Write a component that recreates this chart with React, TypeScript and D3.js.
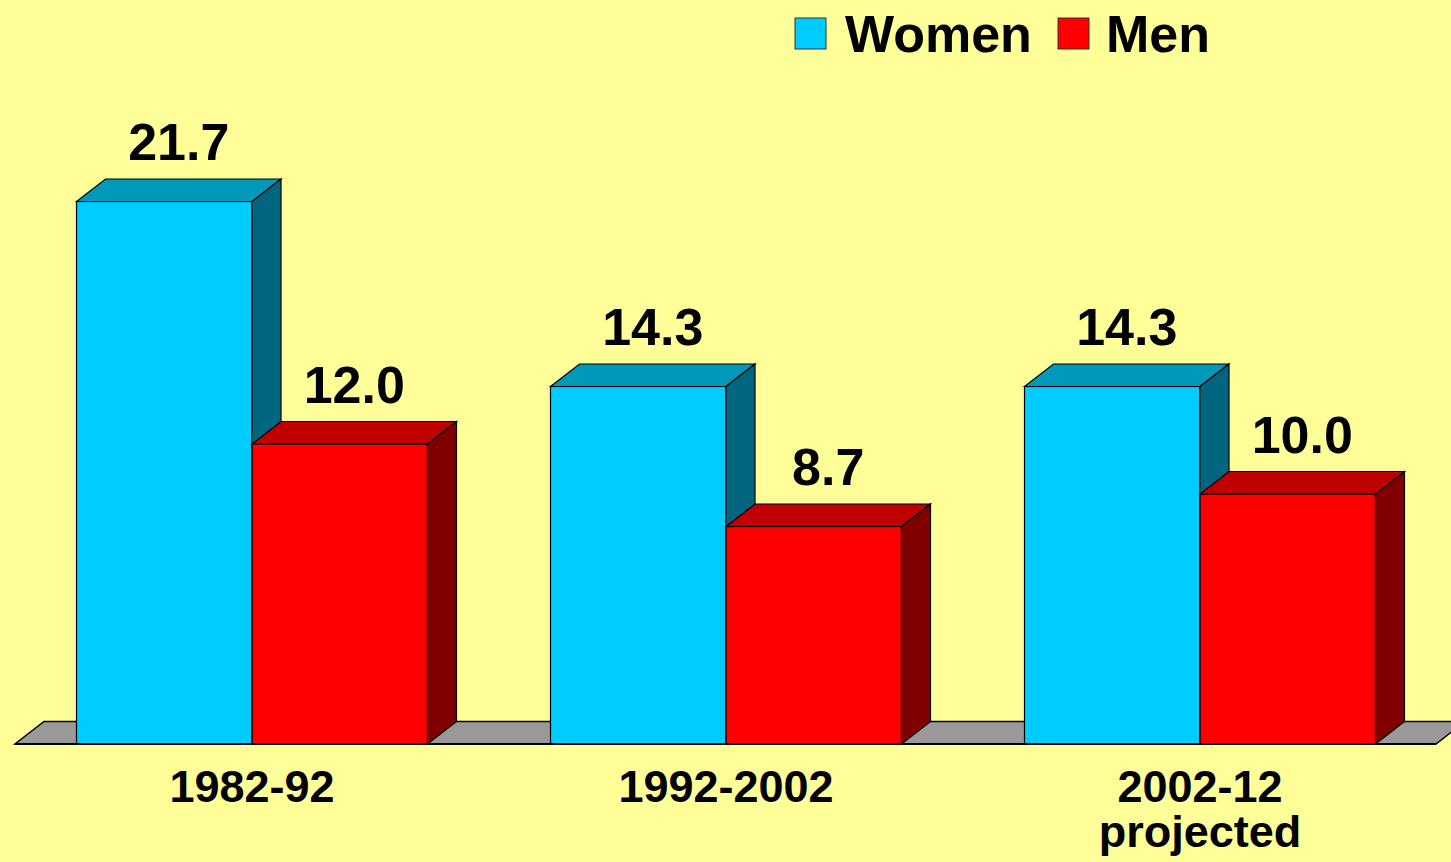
import React from "react";
import * as d3 from "d3";

const categories = ["1982-92", "1992-2002", "2002-12\nprojected"];
const series = ["Women", "Men"];
const women = [21.7, 14.3, 14.3];
const men = [12.0, 8.7, 10.0];

const W = 1451;
const H = 862;
const DX = 29;
const DY = 22.5;
const FONT = "'Liberation Sans', Arial, Helvetica, sans-serif";

const colors: Record<string, { front: string; top: string; side: string }> = {
  Women: { front: "#00CCFF", top: "#0099BB", side: "#006680" },
  Men: { front: "#FF0000", top: "#C00000", side: "#800000" },
};

export default function App() {
  const x = d3.scalePoint<string>().domain(categories).range([252, 1200]);
  const inner = d3.scaleBand<string>().domain(series).range([-175.5, 175.5]).padding(0);
  const y = d3.scaleLinear().domain([0, 22]).range([744, 194]);
  const y0 = y(0);
  const values: Record<string, number[]> = { Women: women, Men: men };

  const floorL = 15;
  const floorR = 1436;

  return (
    <svg width={W} height={H} style={{ display: "block", position: "absolute", left: 0, top: 0 }}>
      <rect x={0} y={0} width={W} height={H} fill="#FFFF99" />
      {/* floor */}
      <polygon
        points={`${floorL},${y0} ${floorR},${y0} ${floorR + DX},${y0 - DY} ${floorL + DX},${y0 - DY}`}
        fill="#999999"
        stroke="#000"
        strokeWidth={1.5}
      />
      {categories.map((c, i) => (
        <g key={c}>
          {series.map((s) => {
            const v = values[s][i];
            const x0 = (x(c) as number) + (inner(s) as number);
            const x1 = x0 + inner.bandwidth();
            const yt = y(v);
            const col = colors[s];
            return (
              <g key={s}>
                <rect x={x0} y={yt} width={x1 - x0} height={y0 - yt} fill={col.front} stroke="#000" strokeWidth={1.2} />
                <polygon
                  points={`${x0},${yt} ${x0 + DX},${yt - DY} ${x1 + DX},${yt - DY} ${x1},${yt}`}
                  fill={col.top}
                  stroke="#000"
                  strokeWidth={1.2}
                />
                <polygon
                  points={`${x1},${yt} ${x1 + DX},${yt - DY} ${x1 + DX},${y0 - DY} ${x1},${y0}`}
                  fill={col.side}
                  stroke="#000"
                  strokeWidth={1.2}
                />
                <text
                  x={(x0 + x1) / 2 + DX / 2}
                  y={yt - DY - 19}
                  textAnchor="middle"
                  fontFamily={FONT}
                  fontWeight="bold"
                  fontSize={52}
                  fill="#000"
                >
                  {v.toFixed(1)}
                </text>
              </g>
            );
          })}
        </g>
      ))}
      {/* front floor edge redrawn */}
      <line x1={floorL} y1={y0} x2={floorR} y2={y0} stroke="#000" strokeWidth={2} />
      {/* category labels */}
      {categories.map((c) => (
        <text
          key={c}
          x={x(c) as number}
          y={802}
          textAnchor="middle"
          fontFamily={FONT}
          fontWeight="bold"
          fontSize={45}
          fill="#000"
        >
          {c.split("\n").map((line, j) => (
            <tspan key={j} x={x(c) as number} dy={j === 0 ? 0 : 45}>
              {line}
            </tspan>
          ))}
        </text>
      ))}
      {/* legend */}
      {[
        { s: "Women", bx: 795, tx: 845 },
        { s: "Men", bx: 1058, tx: 1106 },
      ].map((d) => (
        <g key={d.s}>
          <rect x={d.bx} y={18} width={31} height={31} fill={colors[d.s].front} stroke="#333" strokeWidth={1} />
          <text x={d.tx} y={52} fontFamily={FONT} fontWeight="bold" fontSize={52} fill="#000">
            {d.s}
          </text>
        </g>
      ))}
    </svg>
  );
}
